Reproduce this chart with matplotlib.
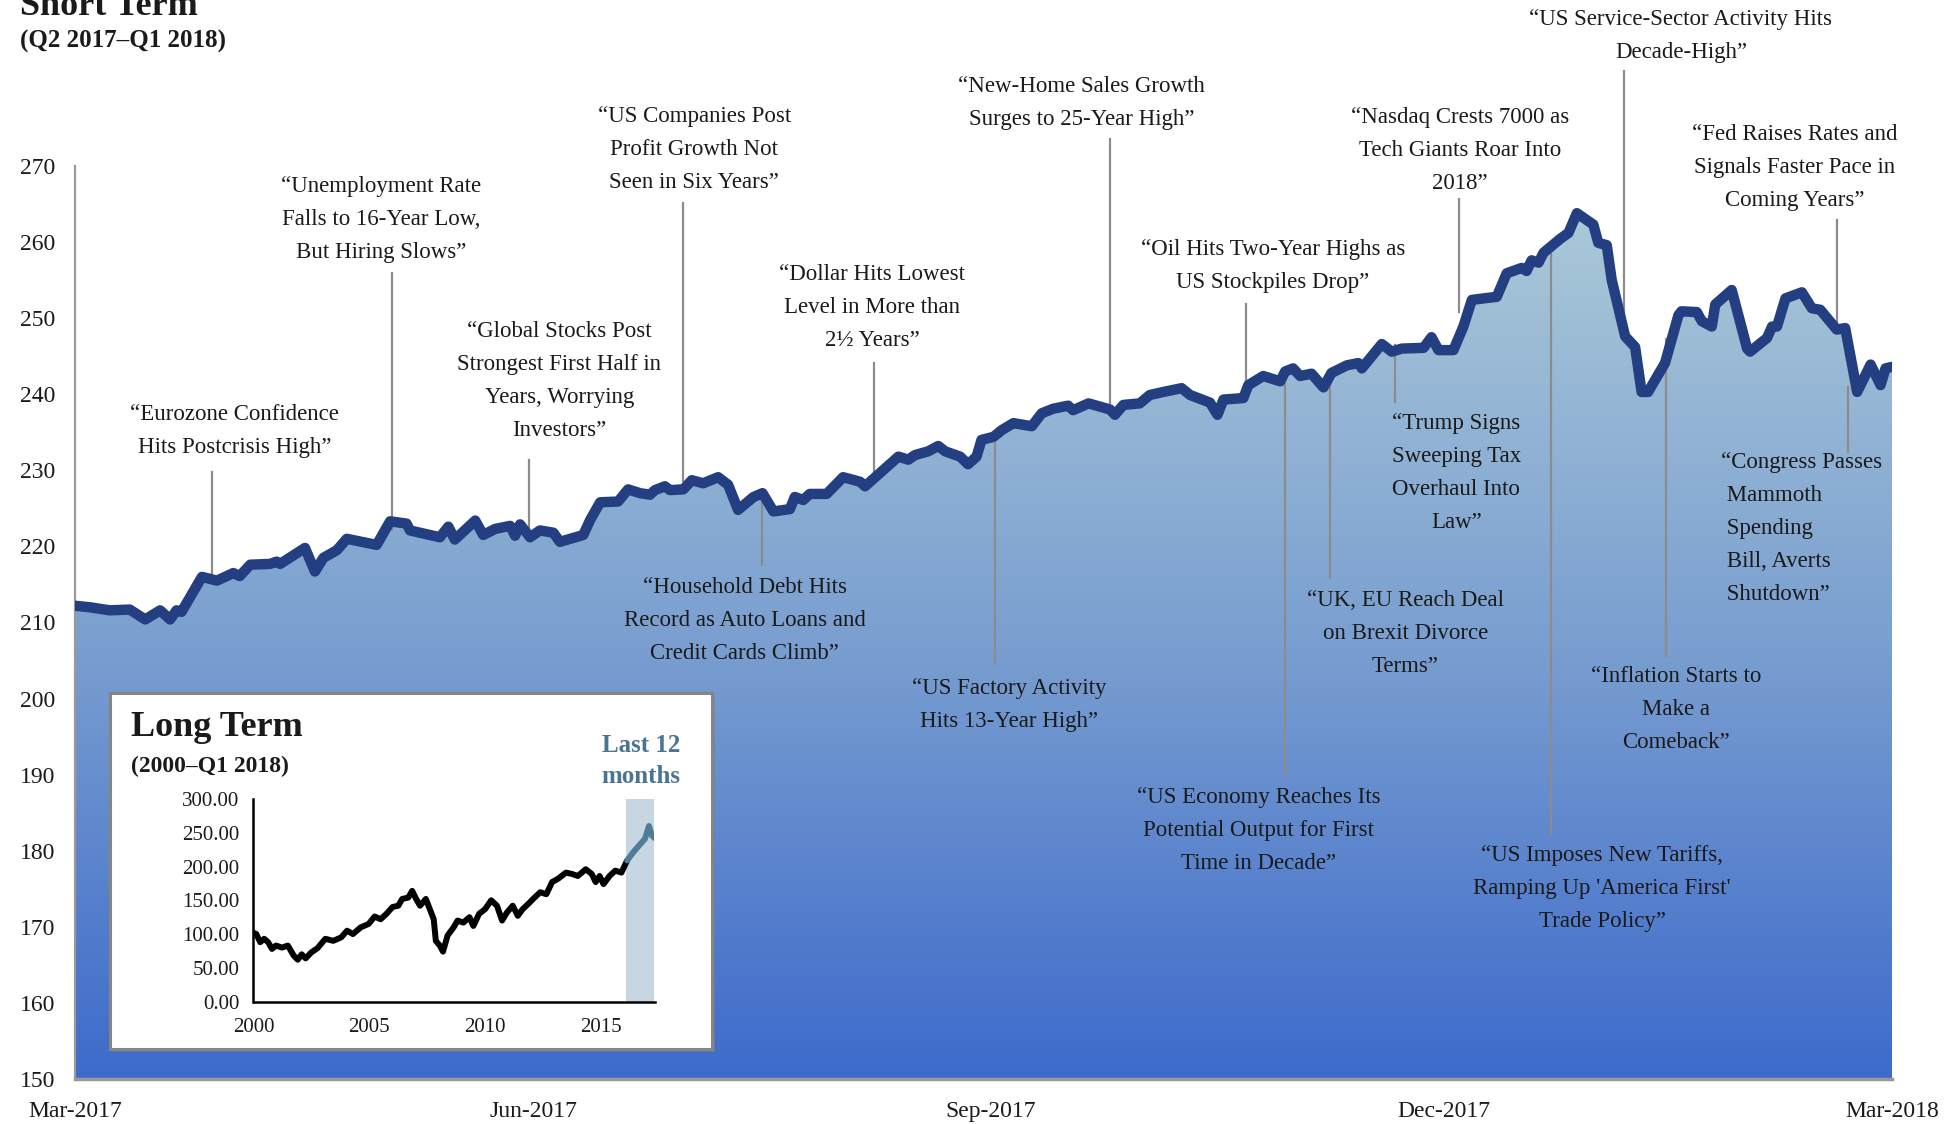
import numpy as np
import matplotlib
matplotlib.use("Agg")
import matplotlib.pyplot as plt
import matplotlib.dates as mdates
from matplotlib.patches import Polygon, Rectangle
from matplotlib.colors import LinearSegmentedColormap
from datetime import datetime

# ---------------- data ----------------
# short-term index, days after 1 Mar 2017
days = [0.0, 3.0, 7.0, 11.0, 14.1, 17.1, 19.1, 20.4, 21.4, 25.5, 28.5, 31.8, 33.1, 35.2,
        39.2, 40.5, 41.2, 46.2, 48.2, 49.9, 52.6, 54.6, 60.6, 63.3, 66.6, 67.3, 73.3,
        75.0, 76.3, 80.4, 82.0, 84.4, 87.4, 88.4, 89.4, 91.4, 93.4, 96.1, 97.4, 102.1,
        103.5, 105.5, 109.1, 111.1, 113.5, 115.5, 116.5, 118.5, 119.5, 122.2, 123.9,
        126.2, 129.2, 131.2, 133.2, 136.3, 138.1, 140.3, 143.6, 144.6, 146.3, 147.6,
        151.0, 154.3, 157.7, 158.7, 165.4, 167.4, 168.7, 171.4, 173.4, 174.8, 177.8,
        179.4, 181.1, 182.1, 184.5, 186.2, 188.5, 192.2, 194.2, 196.5, 199.5, 200.5,
        203.6, 207.9, 208.9, 210.6, 213.9, 215.9, 218.6, 222.3, 224.0, 228.0, 229.5,
        230.7, 234.7, 235.7, 238.7, 242.1, 243.1, 244.7, 246.1, 248.4, 250.8, 252.4,
        255.5, 257.8, 258.5, 262.5, 264.5, 266.5, 270.9, 272.5, 273.9, 276.9, 278.9,
        280.6, 284.2, 285.6, 287.6, 290.6, 291.6, 292.6, 294.0, 295.0, 298.3, 300.0,
        301.7, 305.0, 306.0, 307.7, 308.7, 311.4, 313.4, 314.7, 316.0, 319.4, 322.1,
        322.7, 325.8, 326.8, 328.8, 329.5, 332.8, 335.9, 336.5, 339.9, 340.9, 341.9,
        343.6, 346.9, 348.9, 350.6, 353.9, 355.6, 358.0, 360.7, 362.7, 363.7, 365.0]
values = [212.2, 212.0, 211.6, 211.7, 210.4, 211.6, 210.4, 211.6, 211.4, 216.0, 215.5,
          216.5, 216.1, 217.6, 217.7, 218.0, 217.7, 219.8, 216.7, 218.5, 219.5, 221.0,
          220.2, 223.3, 223.0, 222.1, 221.2, 222.6, 220.9, 223.4, 221.5, 222.3, 222.7,
          221.4, 222.9, 221.2, 222.1, 221.8, 220.6, 221.5, 223.5, 225.8, 225.9, 227.5,
          227.0, 226.8, 227.4, 227.9, 227.4, 227.5, 228.7, 228.3, 229.1, 228.1, 224.8,
          226.5, 227.0, 224.6, 224.9, 226.5, 226.1, 226.9, 226.9, 229.1, 228.5, 227.9,
          231.8, 231.4, 232.0, 232.5, 233.2, 232.5, 231.8, 230.8, 231.8, 234.0, 234.4,
          235.3, 236.2, 235.8, 237.5, 238.1, 238.5, 237.9, 238.8, 238.0, 237.3, 238.6,
          238.8, 239.9, 240.3, 240.8, 239.9, 238.9, 237.3, 239.3, 239.5, 241.2, 242.4,
          241.7, 243.0, 243.4, 242.4, 242.7, 240.9, 242.8, 243.8, 244.1, 243.4, 246.6,
          245.6, 246.0, 246.1, 247.5, 245.8, 245.8, 248.9, 252.4, 252.7, 252.8, 255.9,
          256.6, 256.2, 257.6, 257.3, 258.6, 260.4, 261.2, 263.8, 262.3, 259.9, 259.6,
          255.0, 247.6, 246.2, 240.3, 240.3, 244.1, 250.4, 250.9, 250.8, 249.6, 248.9,
          251.8, 253.7, 246.0, 245.6, 247.4, 248.9, 248.9, 252.6, 253.4, 251.3, 251.1,
          248.5, 248.7, 240.3, 243.9, 241.2, 243.4, 243.6]

y_ticks = [150, 160, 170, 180, 190, 200, 210, 220, 230, 240, 250, 260, 270]
x_tick_dates = [datetime(2017, 3, 1), datetime(2017, 6, 1), datetime(2017, 9, 1),
                datetime(2017, 12, 1), datetime(2018, 3, 1)]

# headlines and where they sit (day, value) plus their leader lines
headlines = [
    "“Eurozone Confidence\nHits Postcrisis High”",
    "“Unemployment Rate\nFalls to 16-Year Low,\nBut Hiring Slows”",
    "“Global Stocks Post\nStrongest First Half in\nYears, Worrying\nInvestors”",
    "“US Companies Post\nProfit Growth Not\nSeen in Six Years”",
    "“Household Debt Hits\nRecord as Auto Loans and\nCredit Cards Climb”",
    "“Dollar Hits Lowest\nLevel in More than\n2½ Years”",
    "“US Factory Activity\nHits 13-Year High”",
    "“New-Home Sales Growth\nSurges to 25-Year High”",
    "“Oil Hits Two-Year Highs as\nUS Stockpiles Drop”",
    "“US Economy Reaches Its\nPotential Output for First\nTime in Decade”",
    "“UK, EU Reach Deal\non Brexit Divorce\nTerms”",
    "“Nasdaq Crests 7000 as\nTech Giants Roar Into\n2018”",
    "“Trump Signs\nSweeping Tax\nOverhaul Into\nLaw”",
    "“US Service-Sector Activity Hits\nDecade-High”",
    "“US Imposes New Tariffs,\nRamping Up 'America First'\nTrade Policy”",
    "“Fed Raises Rates and\nSignals Faster Pace in\nComing Years”",
    "“Inflation Starts to\nMake a\nComeback”",
    "“Congress Passes\n Mammoth\n Spending\n Bill, Averts\n Shutdown”",
]
text_day = [32.1, 61.5, 97.3, 124.4, 134.5, 160.1, 187.7, 202.2, 240.6, 237.8, 267.2,
            278.2, 277.5, 322.6, 306.8, 345.5, 321.6, 330.7]
text_val = [235.2, 263.0, 241.8, 272.2, 210.3, 251.4, 199.1, 278.3, 256.8, 182.6, 208.6,
            272.0, 229.6, 287.1, 175.0, 269.8, 198.6, 222.3]
leader_day = [27.6, 63.7, 91.3, 122.2, 138.0, 160.6, 184.9, 208.0, 235.3, 243.1, 252.1,
              278.0, 265.2, 311.1, 296.5, 354.0, 319.6, 356.2]
leader_top = [229.8, 255.9, 231.4, 265.2, 226.7, 244.1, 234.0, 273.6, 251.9, 243.4, 241.6,
              265.6, 246.5, 282.5, 259.0, 262.9, 247.2, 240.9]
leader_bot = [216.0, 222.2, 220.9, 228.6, 217.6, 229.1, 204.5, 237.3, 241.4, 189.9, 215.8,
              250.8, 239.0, 247.5, 182.2, 249.0, 205.6, 232.4]

# long-term index (inset)
long_years = [2000.0, 2000.12, 2000.29, 2000.46, 2000.63, 2000.80, 2000.97, 2001.23, 2001.48,
              2001.74, 2001.91, 2002.08, 2002.25, 2002.50, 2002.76, 2003.10, 2003.44, 2003.78,
              2004.04, 2004.29, 2004.63, 2004.97, 2005.23, 2005.49, 2005.74, 2006.00, 2006.25,
              2006.42, 2006.68, 2006.85, 2007.02, 2007.19, 2007.44, 2007.61, 2007.78, 2007.87,
              2008.04, 2008.18, 2008.38, 2008.64, 2008.81, 2009.06, 2009.32, 2009.49, 2009.74,
              2010.00, 2010.26, 2010.51, 2010.73, 2010.94, 2011.19, 2011.41, 2011.62, 2011.87,
              2012.13, 2012.38, 2012.64, 2012.89, 2013.15, 2013.49, 2013.75, 2014.00, 2014.34,
              2014.60, 2014.77, 2014.94, 2015.11, 2015.37, 2015.62, 2015.88, 2016.13]
long_values = [102, 100, 88, 93, 88, 78, 83, 80, 83, 68, 62, 70, 64, 73, 79, 93, 90, 95, 105,
               100, 110, 115, 126, 122, 130, 140, 142, 152, 154, 164, 152, 142, 152, 137, 122,
               90, 83, 74, 98, 110, 120, 117, 125, 112, 130, 137, 150, 142, 120, 132, 142, 127,
               137, 145, 154, 162, 159, 177, 182, 191, 189, 186, 196, 189, 177, 186, 174, 186,
               194, 191, 209]
recent_years = [2016.13, 2016.39, 2016.64, 2016.90, 2017.07, 2017.20, 2017.32]
recent_values = [209, 221, 231, 241, 260, 246, 242]
long_y_ticks = [0, 50, 100, 150, 200, 250, 300]
long_x_ticks = [2000, 2005, 2010, 2015]

# ---------------- style ----------------
SERIF = ["Liberation Serif", "DejaVu Serif"]
plt.rcParams["font.family"] = SERIF
LINE = "#233f82"
LEADER = "#8c8c8c"
TEXT = "#1a1a1a"

W, H = 1958, 1124
fig = plt.figure(figsize=(W / 100, H / 100), dpi=100)

def fx(px):
    return px / W

def fy(py):
    return 1 - py / H

ax = fig.add_axes([fx(75), fy(1079), fx(1892) - fx(75), fy(166) - fy(1079)])

base = mdates.date2num(datetime(2017, 3, 1))
xs = base + np.array(days)
ys = np.array(values)
x0, x1 = mdates.date2num(x_tick_dates[0]), mdates.date2num(x_tick_dates[-1])

ax.set_xlim(x0, x1)
ax.set_ylim(150, 270)

# gradient fill under the line
cmap = LinearSegmentedColormap.from_list("g", ["#3d6bcb", "#7a9fd0", "#abc9d8"])
grad = np.linspace(0, 1, 256).reshape(-1, 1)
im = ax.imshow(grad, extent=[x0, x1, 150, 265], origin="lower", aspect="auto",
               cmap=cmap, zorder=1)
poly_pts = np.vstack([np.column_stack([xs, ys]), [[xs[-1], 150], [xs[0], 150]]])
clip = Polygon(poly_pts, closed=True, facecolor="none", edgecolor="none",
               transform=ax.transData)
ax.add_patch(clip)
im.set_clip_path(clip)

ax.plot(xs, ys, color=LINE, lw=7.5, solid_joinstyle="round", solid_capstyle="round",
        zorder=4)

# headlines with leader lines
for i, txt in enumerate(headlines):
    ld = base + leader_day[i]
    ax.plot([ld, ld], [leader_bot[i], leader_top[i]], color=LEADER, lw=1.6, zorder=3,
            clip_on=False)
    ha = "left" if txt.startswith("“Congress") else "center"
    ax.text(base + text_day[i], text_val[i], txt, ha=ha, va="center", fontsize=16.5,
            color=TEXT, linespacing=1.75, zorder=5, clip_on=False,
            multialignment="left" if ha == "left" else "center")

# axes styling
for s in ["top", "right"]:
    ax.spines[s].set_visible(False)
ax.spines["left"].set_color("#9a9a9a")
ax.spines["left"].set_linewidth(1.6)
ax.spines["bottom"].set_color("#999999")
ax.spines["bottom"].set_linewidth(2.5)
ax.set_yticks(y_ticks)
ax.set_yticklabels([str(v) for v in y_ticks])
ax.set_xticks([mdates.date2num(d) for d in x_tick_dates])
ax.xaxis.set_major_formatter(mdates.DateFormatter("%b-%Y"))
ax.tick_params(axis="both", length=0, labelsize=17, colors=TEXT)
ax.tick_params(axis="y", pad=14)
ax.tick_params(axis="x", pad=16)
ax.patch.set_alpha(0)

# titles (top title is cropped at the edge as in the original)
fig.text(fx(20), fy(15), "Short Term", fontsize=26, fontweight="bold", color=TEXT,
         ha="left", va="baseline")
fig.text(fx(20), fy(41), "(Q2 2017–Q1 2018)", fontsize=18, fontweight="bold", color=TEXT,
         ha="left", va="center")

# ---------------- inset ----------------
fig.patches.append(Rectangle((fx(113), fy(1052)), fx(712) - fx(110), fy(693) - fy(1049),
                             transform=fig.transFigure, facecolor="#6f7f95",
                             edgecolor="none", alpha=0.5, zorder=5))
fig.patches.append(Rectangle((fx(110), fy(1049)), fx(712) - fx(110), fy(693) - fy(1049),
                             transform=fig.transFigure, facecolor="white",
                             edgecolor="#858585", lw=2.2, zorder=6))

iax = fig.add_axes([fx(253.5), fy(1001.6), fx(654.5) - fx(253.5), fy(799) - fy(1001.6)],
                   zorder=7)
iax.set_xlim(2000, 2017.31)
iax.set_ylim(0, 300)
iax.axvspan(2016.06, 2017.31, color="#c6d7e1", lw=0, zorder=1)
iax.plot(long_years, long_values, color="black", lw=4.3, zorder=3,
         solid_joinstyle="round", solid_capstyle="round")
iax.plot(recent_years, recent_values, color="#4f7d99", lw=4.3, zorder=3,
         solid_joinstyle="round", solid_capstyle="round")
iax.set_yticks(long_y_ticks)
iax.set_yticklabels([f"{v:.2f}" for v in long_y_ticks])
iax.set_xticks(long_x_ticks)
iax.tick_params(axis="both", length=0, labelsize=15, colors=TEXT)
iax.tick_params(axis="x", pad=12)
iax.tick_params(axis="y", pad=10)
for s in ["top", "right"]:
    iax.spines[s].set_visible(False)
for s in ["left", "bottom"]:
    iax.spines[s].set_color("black")
    iax.spines[s].set_linewidth(1.8)
iax.patch.set_alpha(0)

fig.text(fx(131), fy(727), "Long Term", fontsize=26, fontweight="bold", color=TEXT,
         ha="left", va="center", zorder=8)
fig.text(fx(131), fy(766), "(2000–Q1 2018)", fontsize=17, fontweight="bold", color=TEXT,
         ha="left", va="center", zorder=8)
fig.text(fx(641), fy(761), "Last 12\nmonths", fontsize=18, fontweight="bold",
         color="#4a7592", ha="center", va="center", linespacing=1.4, zorder=8)

fig.savefig("out.png", dpi=100)
